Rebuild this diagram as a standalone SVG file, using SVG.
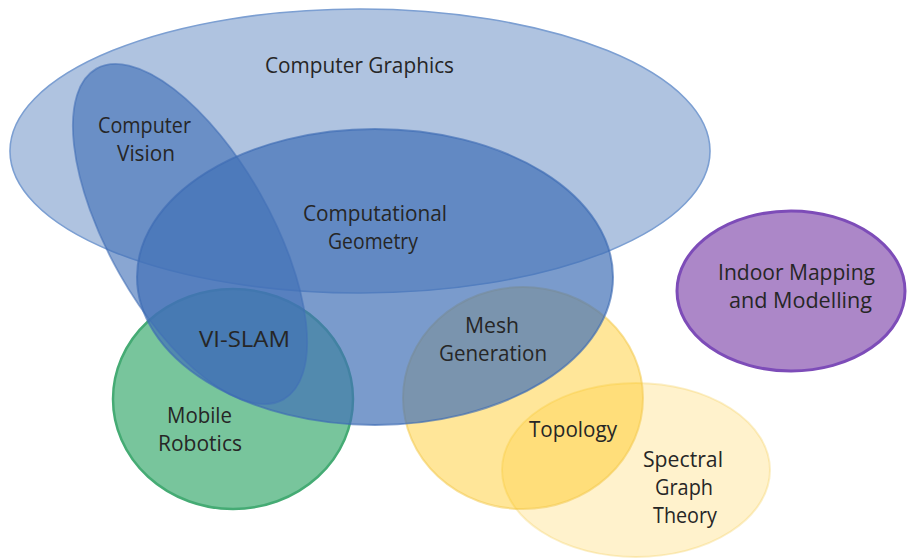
<svg xmlns="http://www.w3.org/2000/svg" width="907" height="560" viewBox="0 0 907 560">
  <style>
    .lbl { font-family: "Open Sans", "Liberation Sans", sans-serif; font-size: 21px; fill: #262626; text-anchor: middle; }
    .blue { fill: #4170b6; }
    .yellow { fill: #ffc000; }
  </style>
  <rect width="907" height="560" fill="#ffffff"/>

  <!-- Spectral Graph Theory -->
  <g id="spectral-graph-theory">
    <ellipse class="yellow" cx="636" cy="470" rx="134" ry="87" fill-opacity="0.2" stroke="#f2c94c" stroke-width="2" stroke-opacity="0.3"/>
    <text class="lbl" x="683" y="467" textLength="80" lengthAdjust="spacingAndGlyphs">Spectral</text>
    <text class="lbl" x="684" y="495" textLength="58" lengthAdjust="spacingAndGlyphs">Graph</text>
    <text class="lbl" x="685" y="523" textLength="64" lengthAdjust="spacingAndGlyphs">Theory</text>
  </g>

  <!-- Topology -->
  <g id="topology">
    <ellipse class="yellow" cx="523" cy="398" rx="120" ry="111" fill-opacity="0.4" stroke="#f2c94c" stroke-width="2" stroke-opacity="0.55"/>
    <text class="lbl" x="573" y="437" textLength="88" lengthAdjust="spacingAndGlyphs">Topology</text>
  </g>

  <!-- Mobile Robotics -->
  <g id="mobile-robotics">
    <ellipse cx="233" cy="399" rx="120" ry="110" fill="#78c59c" stroke="#45ab74" stroke-width="2.5"/>
    <text class="lbl" x="199.5" y="423" textLength="65" lengthAdjust="spacingAndGlyphs">Mobile</text>
    <text class="lbl" x="200" y="451" textLength="84" lengthAdjust="spacingAndGlyphs">Robotics</text>
  </g>

  <!-- Indoor Mapping and Modelling -->
  <g id="indoor-mapping">
    <ellipse cx="791" cy="291" rx="114" ry="80" fill="#7030a0" fill-opacity="0.58" stroke="#7d4cb8" stroke-width="3"/>
    <text class="lbl" x="796.5" y="280" textLength="157" lengthAdjust="spacingAndGlyphs">Indoor Mapping</text>
    <text class="lbl" x="800.5" y="308" textLength="143" lengthAdjust="spacingAndGlyphs">and Modelling</text>
  </g>

  <!-- Computer Graphics -->
  <g id="computer-graphics">
    <ellipse class="blue" cx="360" cy="151" rx="350" ry="142" fill-opacity="0.42" stroke="#7c9fd2" stroke-width="1.6"/>
    <text class="lbl" x="359.5" y="73" textLength="189" lengthAdjust="spacingAndGlyphs">Computer Graphics</text>
  </g>

  <!-- Computer Vision -->
  <g id="computer-vision">
    <ellipse class="blue" cx="190" cy="234" rx="190" ry="81" transform="rotate(60.5 190 234)" fill-opacity="0.62" stroke="#3e6cb4" stroke-width="1.8" stroke-opacity="0.55"/>
    <text class="lbl" x="144.5" y="133" textLength="93" lengthAdjust="spacingAndGlyphs">Computer</text>
    <text class="lbl" x="146" y="161" textLength="58" lengthAdjust="spacingAndGlyphs">Vision</text>
  </g>

  <!-- Computational Geometry -->
  <g id="computational-geometry">
    <ellipse class="blue" cx="375" cy="277" rx="238" ry="148" fill-opacity="0.7" stroke="#3e6cb4" stroke-width="2" stroke-opacity="0.65"/>
    <text class="lbl" x="375" y="221" textLength="144" lengthAdjust="spacingAndGlyphs">Computational</text>
    <text class="lbl" x="373" y="249" textLength="90" lengthAdjust="spacingAndGlyphs">Geometry</text>
  </g>

  <!-- Labels of the overlapping regions -->
  <g id="vi-slam">
    <text class="lbl" x="244.5" y="347" textLength="91" lengthAdjust="spacingAndGlyphs">VI-SLAM</text>
  </g>
  <g id="mesh-generation">
    <text class="lbl" x="492" y="333" textLength="54" lengthAdjust="spacingAndGlyphs">Mesh</text>
    <text class="lbl" x="493" y="361" textLength="108" lengthAdjust="spacingAndGlyphs">Generation</text>
  </g>
</svg>
